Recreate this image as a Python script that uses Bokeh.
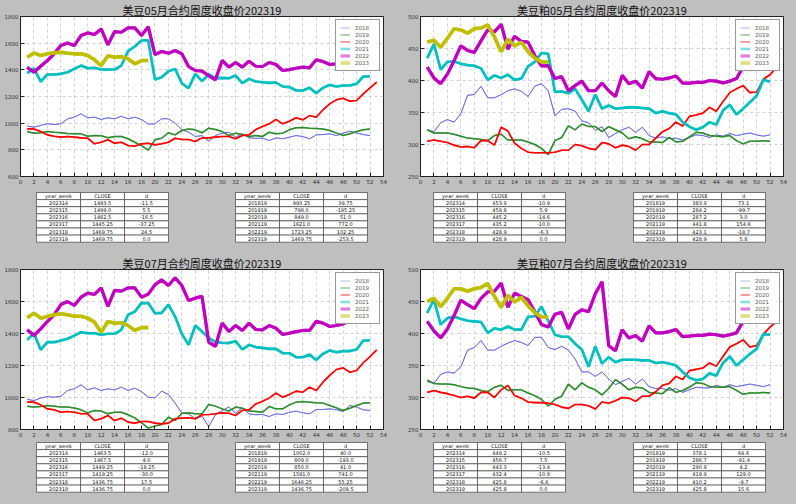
from bokeh.plotting import figure
from bokeh.layouts import column, row
from bokeh.models import Range1d, FixedTicker, Legend, LegendItem
from bokeh.embed import file_html
from bokeh.resources import INLINE
from bokeh.core.properties import value

BG = "#bfbfbf"
years = ["2018", "2019", "2020", "2021", "2022", "2023"]
colors = ["#6b6bdf", "#2e8b2e", "#ff0000", "#00bfbf", "#bf00bf", "#bfbf00"]
widths = [1, 1.5, 1.6, 2.6, 3.2, 3.6]
x_ticks = list(range(0, 55, 2))

# ---------------- 美豆05 ----------------
s05_2018 = [978, 970, 983, 995, 990, 995, 1032, 1045, 1070, 1040,
            1045, 1028, 1040, 1033, 1052, 1033, 1045, 1028, 993.25, 995,
            1033, 1033, 1000, 950, 932, 900, 907, 865, 907, 925,
            932, 895, 920, 890, 887, 887, 870, 890, 883, 895,
            907, 900, 883, 912, 915, 920, 907, 925, 940, 925,
            915, 907]
s05_2019 = [937, 925, 928, 937, 932, 928, 922, 920, 920, 902,
            907, 905, 890, 900, 900, 883, 857, 832, 798, 875,
            887, 928, 912, 945, 957, 950, 928, 962, 952, 937,
            907, 925, 915, 900, 907, 900, 932, 920, 925, 950,
            965, 967, 962, 960, 957, 945, 925, 907, 920, 937,
            950, 957]
s05_2020 = [957, 957, 937, 912, 902, 895, 900, 895, 890, 887,
            845, 857, 875, 850, 857, 832, 827, 845, 849, 837,
            845, 857, 887, 877, 877, 862, 890, 890, 895, 900,
            900, 883, 907, 912, 952, 975, 995, 1028, 995, 1015,
            1040, 1025, 1057, 1045, 1100, 1145, 1175, 1187, 1165, 1170,
            1220, 1265, 1307]
s05_2021 = [1375, 1412, 1312, 1365, 1365, 1370, 1382, 1407, 1432, 1412,
            1415, 1402, 1402, 1402, 1432, 1540, 1575, 1620, 1621, 1327,
            1345, 1390, 1407, 1300, 1262, 1370, 1315, 1365, 1337, 1340,
            1337, 1357, 1300, 1332, 1312, 1307, 1302, 1305, 1275, 1270,
            1245, 1245, 1265, 1225, 1265, 1287, 1275, 1282, 1282, 1295,
            1350, 1350]
s05_2022 = [1420, 1382, 1427, 1470, 1520, 1582, 1602, 1582, 1657, 1677,
            1665, 1707, 1587, 1687, 1682, 1715, 1715, 1657, 1723.25, 1515,
            1537, 1525, 1545, 1520, 1425, 1395, 1390, 1357, 1325, 1470,
            1420, 1455, 1420, 1465, 1427, 1425, 1455, 1440, 1395, 1402,
            1412, 1420, 1415, 1475, 1462, 1440, 1445, 1452, 1457, 1480,
            1500, 1510]
s05_2023 = [1495, 1527, 1507, 1520, 1527, 1532, 1525, 1520, 1520, 1507,
            1475, 1432, 1505, 1493.5, 1499.0, 1482.5, 1445.25, 1469.75, 1469.75]

# ---------------- 美豆粕05 ----------------
m05_2018 = [323, 320, 334, 339, 335, 348, 377, 378, 391, 373,
            373, 378, 384, 387, 383, 375, 391, 395, 383.9, 345,
            355, 356, 352, 337, 334, 322, 328, 311, 317, 323,
            327, 319, 327, 314, 310, 312, 309, 310, 307, 311,
            315, 314, 311, 315, 313, 317, 314, 316, 318, 315,
            313, 315]
m05_2019 = [323, 318, 318, 318, 316, 313, 310, 309, 308, 306,
            314, 316, 307, 307, 307, 304, 300, 294, 284.2, 306,
            311, 329, 323, 332, 328, 328, 320, 328, 323, 318,
            309, 312, 309, 304, 304, 303, 311, 304, 305, 312,
            319, 318, 314, 313, 312, 314, 306, 301, 305, 305,
            306, 305]
m05_2020 = [305, 307, 305, 303, 299, 296, 297, 295, 306, 306,
            299, 327, 321, 302, 294, 288, 287, 287, 287.2, 288,
            291, 291, 300, 298, 294, 292, 303, 301, 295, 299,
            297, 291, 300, 300, 310, 320, 325, 335, 329, 344,
            346, 349, 358, 352, 367, 381, 387, 392, 381, 382,
            402, 409, 421]
m05_2021 = [435, 457, 417, 429, 430, 426, 424, 423, 419, 401,
            408, 404, 409, 401, 403, 422, 429, 443, 441.8, 382,
            383, 380, 387, 370, 352, 378, 356, 361, 356, 357,
            358, 358, 357, 356, 349, 352, 349, 347, 335, 328,
            323, 327, 335, 331, 353, 362, 347, 356, 366, 376,
            401, 398]
m05_2022 = [421, 404, 395, 410, 431, 454, 447, 444, 462, 479,
            476, 488, 449, 469, 461, 460, 439, 423, 423.1, 403,
            406, 384, 392, 399, 384, 384, 396, 384, 375, 408,
            395, 399, 388, 414, 403, 402, 404, 407, 396, 396,
            397, 397, 400, 399, 396, 399, 403, 421, 447, 455,
            460, 465]
m05_2023 = [460, 463, 452, 466, 481, 479, 474, 481, 482, 487,
            468, 445, 464.8, 453.9, 459.8, 445.2, 435.2, 428.9, 428.9]

# ---------------- 美豆07 ----------------
s07_2018 = [988, 981, 996, 1006, 1002, 1008, 1044, 1054, 1079, 1048,
            1060, 1044, 1054, 1048, 1065, 1044, 1058, 1037, 1002, 998,
            1040, 1019, 965, 902, 898, 867, 883, 819, 892, 919,
            940, 902, 935, 898, 892, 894, 881, 898, 894, 908,
            915, 904, 898, 925, 925, 929, 923, 913, 950, 940,
            923, 919]
s07_2019 = [946, 940, 944, 950, 946, 940, 940, 935, 923, 904,
            919, 915, 898, 908, 908, 892, 873, 842, 809, 821,
            831, 877, 856, 902, 904, 898, 898, 956, 946, 929,
            915, 940, 933, 915, 913, 908, 944, 929, 929, 954,
            971, 975, 971, 967, 965, 950, 935, 919, 933, 950,
            965, 967]
s07_2020 = [971, 971, 954, 929, 923, 908, 913, 908, 898, 898,
            856, 867, 888, 856, 871, 846, 840, 850, 850, 840,
            835, 840, 867, 871, 873, 867, 892, 894, 898, 904,
            902, 888, 919, 923, 960, 977, 996, 1027, 1002, 1019,
            1040, 1033, 1065, 1044, 1096, 1138, 1175, 1185, 1158, 1169,
            1217, 1256, 1298]
s07_2021 = [1360, 1402, 1298, 1346, 1346, 1356, 1367, 1387, 1408, 1402,
            1402, 1392, 1398, 1398, 1423, 1517, 1537, 1590, 1591, 1527,
            1529, 1581, 1506, 1398, 1329, 1450, 1412, 1373, 1346, 1342,
            1340, 1352, 1300, 1329, 1315, 1310, 1304, 1304, 1277, 1277,
            1252, 1252, 1269, 1235, 1273, 1294, 1283, 1290, 1290, 1300,
            1356, 1356]
s07_2022 = [1423, 1387, 1429, 1475, 1517, 1581, 1600, 1575, 1627, 1652,
            1644, 1685, 1569, 1669, 1665, 1685, 1685, 1627, 1646.25, 1704,
            1735, 1700, 1748, 1700, 1606, 1621, 1633, 1346, 1319, 1465,
            1412, 1450, 1419, 1465, 1425, 1423, 1450, 1433, 1394, 1402,
            1412, 1419, 1419, 1477, 1465, 1444, 1450, 1460, 1481, 1500,
            1520, 1530]
s07_2023 = [1498, 1527, 1496, 1506, 1517, 1523, 1517, 1508, 1508, 1496,
            1471, 1408, 1475.5, 1463.5, 1467.5, 1449.25, 1419.25, 1436.75, 1436.75]

# ---------------- 美豆粕07 ----------------
m07_2018 = [325, 322, 336, 340, 338, 348, 374, 378, 389, 374,
            374, 380, 385, 389, 386, 381, 394, 394, 378.1, 375,
            380, 374, 360, 340, 340, 333, 340, 329, 320, 325,
            330, 321, 329, 317, 314, 314, 311, 314, 308, 312,
            316, 315, 315, 319, 316, 320, 317, 319, 321, 319,
            317, 320]
m07_2019 = [327, 322, 321, 321, 320, 317, 315, 314, 311, 309,
            316, 319, 311, 312, 312, 307, 303, 297, 286.7, 297,
            302, 321, 312, 323, 316, 312, 304, 314, 328, 321,
            312, 316, 315, 308, 307, 306, 315, 308, 311, 316,
            323, 322, 317, 316, 316, 317, 311, 305, 307, 307,
            308, 307]
m07_2020 = [308, 311, 308, 306, 303, 300, 302, 299, 308, 308,
            300, 312, 319, 303, 299, 293, 292, 292, 290.9, 289,
            285, 283, 289, 289, 287, 282, 293, 291, 295, 300,
            299, 294, 302, 302, 309, 319, 322, 333, 328, 342,
            344, 346, 354, 349, 364, 379, 384, 390, 379, 381,
            399, 410, 419]
m07_2021 = [432, 453, 414, 424, 426, 423, 420, 419, 418, 401,
            408, 406, 411, 406, 406, 426, 427, 442, 419.9, 398,
            395, 395, 384, 375, 348, 380, 353, 363, 355, 359,
            359, 359, 358, 358, 354, 355, 353, 350, 340, 331,
            327, 329, 338, 334, 354, 364, 350, 359, 368, 376,
            399, 398]
m07_2022 = [419, 404, 393, 407, 428, 452, 445, 439, 455, 465,
            466, 479, 441, 463, 458, 453, 434, 414, 410.2, 430,
            433, 407, 430, 437, 434, 462, 481, 381, 373, 406,
            393, 397, 388, 412, 401, 401, 403, 406, 395, 396,
            397, 397, 399, 398, 396, 398, 401, 419, 442, 455,
            460, 465]
m07_2023 = [450, 455, 442, 455, 470, 470, 466, 470, 472, 478,
            458, 441, 459.7, 449.2, 456.7, 443.3, 432.4, 425.8, 425.8]

# ---------------- tables ----------------
tbl_header = ["year_week", "CLOSE", "d"]
recent_weeks = ["202314", "202315", "202316", "202317", "202318", "202319"]
year_weeks = ["201819", "201919", "202019", "202119", "202219", "202319"]

s05_recent_close = ["1493.5", "1499.0", "1482.5", "1445.25", "1469.75", "1469.75"]
s05_recent_d = ["-11.5", "5.5", "-16.5", "-37.25", "24.5", "0.0"]
s05_year_close = ["993.25", "798.0", "849.0", "1621.0", "1723.25", "1469.75"]
s05_year_d = ["39.75", "-195.25", "51.0", "772.0", "102.25", "-253.5"]

m05_recent_close = ["453.9", "459.8", "445.2", "435.2", "428.9", "428.9"]
m05_recent_d = ["-10.9", "5.9", "-14.6", "-10.0", "-6.3", "0.0"]
m05_year_close = ["383.9", "284.2", "287.2", "441.8", "423.1", "428.9"]
m05_year_d = ["73.1", "-99.7", "3.0", "154.6", "-18.7", "5.8"]

s07_recent_close = ["1463.5", "1467.5", "1449.25", "1419.25", "1436.75", "1436.75"]
s07_recent_d = ["-12.0", "4.0", "-18.25", "-30.0", "17.5", "0.0"]
s07_year_close = ["1002.0", "809.0", "850.0", "1591.0", "1646.25", "1436.75"]
s07_year_d = ["40.0", "-193.0", "41.0", "741.0", "55.25", "-209.5"]

m07_recent_close = ["449.2", "456.7", "443.3", "432.4", "425.8", "425.8"]
m07_recent_d = ["-10.5", "7.5", "-13.4", "-10.9", "-6.6", "0.0"]
m07_year_close = ["378.1", "286.7", "290.9", "419.9", "410.2", "425.8"]
m07_year_d = ["64.6", "-91.4", "4.2", "129.0", "-9.7", "15.6"]


def make_chart(title, series, ylo, yhi, ystep, w, h, bl, br, bt, bb):
    p = figure(width=w, height=h, output_backend="svg", toolbar_location=None,
               x_range=Range1d(0, 54), y_range=Range1d(ylo, yhi),
               min_border_left=bl, min_border_right=br,
               min_border_top=bt, min_border_bottom=bb)
    p.background_fill_color = "white"
    p.border_fill_color = BG
    p.outline_line_color = "#222222"
    p.outline_line_width = 1
    p.title.text = title
    p.title.align = "center"
    p.title.text_font = "Noto Sans CJK SC"
    p.title.text_font_style = "normal"
    p.title.text_font_size = "11px"
    p.title.text_color = "#111111"
    p.title.standoff = -3
    p.title.offset = 0
    p.xaxis.ticker = FixedTicker(ticks=x_ticks)
    p.yaxis.ticker = FixedTicker(ticks=list(range(ylo, yhi + 1, ystep)))
    for ax in (p.xaxis, p.yaxis):
        ax.major_label_text_font = "DejaVu Sans"
        ax.major_label_text_font_size = "5.5px"
        ax.major_label_text_color = "#333333"
        ax.major_tick_in = 4
        ax.major_tick_out = 0
        ax.minor_tick_line_color = None
        ax.axis_line_color = "#222222"
        ax.major_tick_line_color = "#222222"
        ax.major_label_standoff = 2
    p.grid.grid_line_color = "#c4c4c4"
    p.grid.grid_line_dash = "3 3"
    p.grid.grid_line_width = 0.8
    items = []
    for yr, vals, c, lw in zip(years, series, colors, widths):
        wk = list(range(1, len(vals) + 1))
        # pale copy underneath, used as the (faded) legend swatch
        key = p.line(wk, vals, line_color=c, line_width=lw, line_alpha=0.5)
        p.line(wk, vals, line_color=c, line_width=lw)
        items.append(LegendItem(label=yr, renderers=[key]))
    leg = Legend(items=items, location="top_right", margin=3, padding=4,
                 spacing=0, label_height=7, glyph_height=7, glyph_width=10,
                 label_standoff=5, label_text_font="DejaVu Sans",
                 label_text_font_size="5.5px", label_text_color="#555555",
                 border_line_color="#333333",
                 border_line_width=0.8, background_fill_color="white",
                 background_fill_alpha=1)
    p.add_layout(leg)
    return p


def make_table(w, h, x_left, x_right, y0, recent_close, recent_d, year_close, year_d):
    p = figure(width=w, height=h, output_backend="svg", toolbar_location=None,
               x_range=Range1d(0, w), y_range=Range1d(h, 0),
               x_axis_location=None, y_axis_location=None,
               min_border_left=0, min_border_right=0, min_border_top=0, min_border_bottom=0)
    p.grid.visible = False
    p.outline_line_color = None
    p.background_fill_color = BG
    p.border_fill_color = BG
    cw, rh = 44, 7.1
    tables = [(x_left, [tbl_header] + [list(t) for t in zip(recent_weeks, recent_close, recent_d)]),
              (x_right, [tbl_header] + [list(t) for t in zip(year_weeks, year_close, year_d)])]
    for x0, rows in tables:
        L, R, T, B, tx, ty, tt = [], [], [], [], [], [], []
        for ri, rw in enumerate(rows):
            for ci, cell in enumerate(rw):
                L.append(x0 + ci * cw)
                R.append(x0 + (ci + 1) * cw)
                T.append(y0 + ri * rh)
                B.append(y0 + (ri + 1) * rh)
                tx.append(x0 + (ci + 0.5) * cw)
                ty.append(y0 + (ri + 0.5) * rh)
                tt.append(cell)
        p.quad(left=L, right=R, top=T, bottom=B, fill_color="white",
               line_color="#444444", line_width=0.7)
        p.text(x=tx, y=ty, text=tt, text_align="center", text_baseline="middle",
               text_font=value("DejaVu Sans"), text_font_size="5px", text_color="#111111")
    return p


W = 398
c1 = make_chart("美豆05月合约周度收盘价202319",
                [s05_2018, s05_2019, s05_2020, s05_2021, s05_2022, s05_2023],
                600, 1800, 200, W, 186, 20, 15, 16, 10)
c2 = make_chart("美豆粕05月合约周度收盘价202319",
                [m05_2018, m05_2019, m05_2020, m05_2021, m05_2022, m05_2023],
                250, 500, 50, W, 186, 22, 13, 16, 10)
c3 = make_chart("美豆07月合约周度收盘价202319",
                [s07_2018, s07_2019, s07_2020, s07_2021, s07_2022, s07_2023],
                800, 1800, 200, W, 189, 20, 15, 19, 10)
c4 = make_chart("美豆粕07月合约周度收盘价202319",
                [m07_2018, m07_2019, m07_2020, m07_2021, m07_2022, m07_2023],
                250, 500, 50, W, 189, 22, 13, 19, 10)

t1 = make_table(W, 64, 36, 235, 6, s05_recent_close, s05_recent_d, s05_year_close, s05_year_d)
t2 = make_table(W, 64, 35, 235, 6, m05_recent_close, m05_recent_d, m05_year_close, m05_year_d)
t3 = make_table(W, 65, 36, 235, 3, s07_recent_close, s07_recent_d, s07_year_close, s07_year_d)
t4 = make_table(W, 65, 35, 235, 3, m07_recent_close, m07_recent_d, m07_year_close, m07_year_d)

layout = column(row(c1, c2), row(t1, t2), row(c3, c4), row(t3, t4))

html = file_html(layout, INLINE, title="美豆周度收盘价")
html = html.replace("<head>", "<head><style>html,body{background:#bfbfbf;}</style>", 1)
open("out.html", "w").write(html)
